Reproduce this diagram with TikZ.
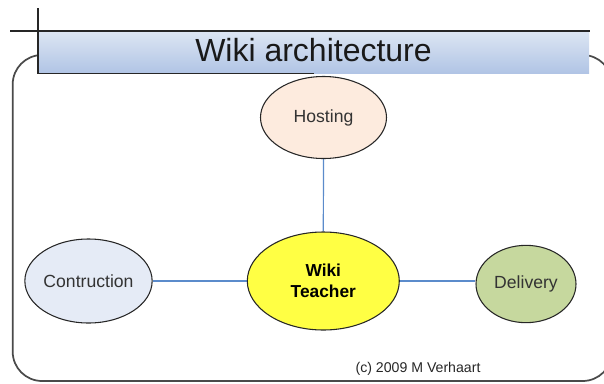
\documentclass[tikz,border=0pt]{standalone}
\usepackage{fontspec}
\setmainfont{Liberation Sans}
\usetikzlibrary{shapes.geometric,backgrounds}

\definecolor{framegray}{HTML}{4A4A4A}
\definecolor{bannertop}{HTML}{DDE6F3}
\definecolor{bannerbot}{HTML}{B0C4E5}
\definecolor{linkblue}{HTML}{5B8BCB}
\definecolor{hostfill}{HTML}{FDEBDE}
\definecolor{buildfill}{HTML}{E5EBF6}
\definecolor{corefill}{HTML}{FFFF44}
\definecolor{deliverfill}{HTML}{C6D89E}
\definecolor{labelgray}{HTML}{333333}

\tikzset{
  bubble/.style={ellipse, draw=black!85, line width=0.8pt, inner sep=0pt,
    font=\fontsize{13.2}{15}\selectfont, text=labelgray, align=center},
  link/.style={draw=linkblue, line width=0.9pt},
  rule/.style={draw=black!85, line width=1.3pt}
}

\begin{document}
\begin{tikzpicture}[x=0.75pt, y=-0.75pt]
  \useasboundingbox (0,0) rectangle (604,383);
  \clip (0,0) rectangle (604,383);

  % outer rounded frame (its right edge lies just past the page)
  \draw[framegray, line width=1.3pt, rounded corners=22]
    (12.7,55) rectangle (612,381);

  % title banner
  \shade[top color=bannertop, bottom color=bannerbot]
    (37.7,30.7) rectangle (589,73.5);
  \draw[rule] (10,30.7) -- (590,30.7);
  \draw[rule] (37.7,8) -- (37.7,73.5) -- (314,73.5);
  \node[font=\fontsize{24}{28}\selectfont, text=black!90] (title)
    at (313.5,50) {Wiki architecture};

  % concept nodes
  \node[bubble, fill=hostfill, minimum width=94.5pt, minimum height=61.5pt]
    (host) at (323.5,117.5) {Hosting};
  \node[bubble, fill=buildfill, minimum width=94.5pt, minimum height=63pt]
    (build) at (88.5,281) {Contruction};
  \node[bubble, fill=corefill, minimum width=114pt, minimum height=73.5pt,
        font=\fontsize{13}{15.5}\bfseries, text=black]
    (core) at (323.3,281) {Wiki\\Teacher};
  \node[bubble, fill=deliverfill, minimum width=75pt, minimum height=58pt]
    (deliver) at (526,284) {Delivery};

  % connectors behind the nodes
  \begin{scope}[on background layer]
    \draw[link] (host.south) -- (core.north);
    \draw[link] (build.east) -- (core.west);
    \draw[link] (core.east) -- (deliver.west |- core.east);
  \end{scope}

  \node[font=\fontsize{10.6}{12}\selectfont, text=black!85] (credit)
    at (418,369) {(c) 2009 M Verhaart};
\end{tikzpicture}
\end{document}
